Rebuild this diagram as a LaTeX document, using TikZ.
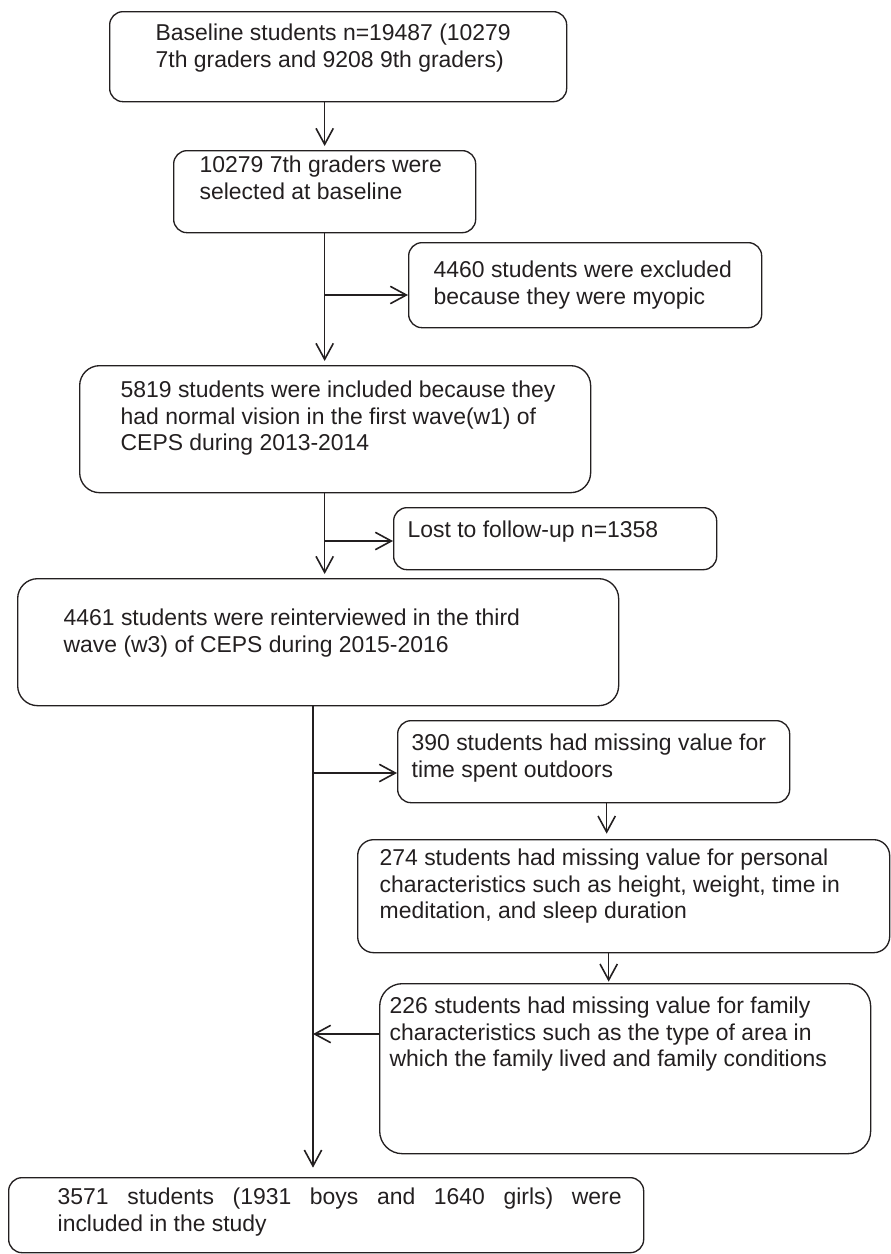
\documentclass[tikz,border=0pt]{standalone}
\usepackage{fontspec}
\setmainfont{Liberation Sans}
\usetikzlibrary{arrows.meta,calc}
\definecolor{inkgray}{RGB}{35,31,32}
\newlength\pxu
\setlength\pxu{0.75pt}
\newcommand{\boxtext}[5]{%
  \begin{minipage}[t][#2\pxu][t]{#1\pxu}%
    \raggedright\leftskip=#3\pxu\relax
    \rightskip=0pt plus 1fil minus 200pt\relax
    \rule{0pt}{#4\pxu}#5%
  \end{minipage}}

\tikzset{every picture/.style={line width=0.75pt}}
\tikzset{
  stagebox/.style={draw=inkgray, line width=1pt, rounded corners=10pt, inner sep=0pt, anchor=north west, text=inkgray, font=\fontsize{17.2}{19.9}\selectfont},
  flowarrow/.style={draw=inkgray, line width=1.2pt, -{Straight Barb[length=12pt,width=13pt]}},
}

\begin{document}
\begin{tikzpicture}[x=0.75pt,y=0.75pt,yscale=-1,xscale=1]
\useasboundingbox (0,0) rectangle (891,1254);

%Shape: Rounded Rect
\node [stagebox] (base) at (109,11) {\boxtext{457}{90}{46}{29}{Baseline students n=19487 (10279\\7th graders and 9208 9th graders)}};
%Shape: Rounded Rect
\node [stagebox] (sel) at (173,150) {\boxtext{302}{82}{26}{22}{10279 7th graders were\\selected at baseline}};
%Shape: Rounded Rect
\node [stagebox] (excl) at (408,242) {\boxtext{353}{85}{25}{35}{4460 students were excluded\\because they were myopic}};
%Shape: Rounded Rect
\node [stagebox, rounded corners=15pt] (incl) at (79,365) {\boxtext{511}{127}{41}{32}{5819 students were included because they\\had normal vision in the first wave(w1) of\\CEPS during 2013-2014}};
%Shape: Rounded Rect
\node [stagebox] (lost) at (393,507) {\boxtext{323}{62}{14}{30}{Lost to follow-up n=1358}};
%Shape: Rounded Rect
\node [stagebox, rounded corners=15pt] (reint) at (17,578) {\boxtext{601}{127}{46}{47}{4461 students were reinterviewed in the third\\wave (w3) of CEPS during 2015-2016}};
%Shape: Rounded Rect
\node [stagebox] (outd) at (397,720) {\boxtext{392}{82}{14}{30}{390 students had missing value for\\time spent outdoors}};
%Shape: Rounded Rect
\node [stagebox, rounded corners=12pt] (pers) at (357,839) {\boxtext{532}{113}{22}{26}{274 students had missing value for personal\\characteristics such as height, weight, time in\\meditation, and sleep duration}};
%Shape: Rounded Rect
\node [stagebox, rounded corners=17pt] (fam) at (379,983) {\boxtext{491}{170}{10}{30}{226 students had missing value for family\\characteristics such as the type of area in\\which the family lived and family conditions}};
%Shape: Rounded Rect
\node [stagebox] (final) at (8,1177) {\boxtext{635}{75}{49}{27}{\makebox[564\pxu][s]{3571 students (1931 boys and 1640 girls) were}\\included in the study}};

\coordinate (splitA) at (324,295);
\coordinate (splitB) at (324,541);
\coordinate (splitC) at (313,773);
\coordinate (joinD) at (313,1034);

%Straight Lines
\draw [flowarrow, shorten >=3pt] (base.south -| sel.north) -- (sel.north);
\draw [flowarrow, shorten >=3pt] (sel.south) -- (sel.south |- incl.north);
\draw [flowarrow] (splitA) -- (excl.west |- splitA);
\draw [flowarrow, shorten >=3pt] (incl.south -| sel.south) -- (sel.south |- reint.north);
\draw [flowarrow] (splitB) -- (lost.west |- splitB);
\draw [flowarrow, shorten >=7pt] (reint.south -| splitC) -- (final.north -| splitC);
\draw [flowarrow] (splitC) -- (outd.west |- splitC);
\draw [flowarrow, shorten >=4pt] ($(outd.south)+(13,0)$) -- ($(outd.south |- pers.north)+(13,0)$);
\draw [flowarrow, shorten >=1pt] ($(pers.south)+(-15,0)$) -- ($(pers.south |- fam.north)+(-15,0)$);
\draw [flowarrow] (fam.west |- joinD) -- (joinD);

\end{tikzpicture}
\end{document}
